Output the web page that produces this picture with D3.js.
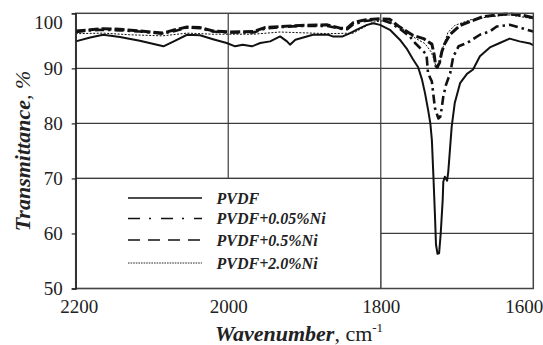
<!DOCTYPE html>
<html>
<head>
<meta charset="utf-8">
<script src="https://cdn.jsdelivr.net/npm/d3@7"></script>
<style>
  html, body { margin: 0; padding: 0; background: #fff; }
  svg { display: block; }
  text { font-family: "Liberation Serif", "Times New Roman", serif; fill: #222; }
</style>
</head>
<body>
<svg id="chart" width="543" height="345"></svg>
<script>
// FTIR spectra of PVDF films, 2200–1600 cm-1
const xTicks = [2200, 2000, 1800, 1600];
const yTicks = [50, 60, 70, 80, 90, 100];

const pvdfWave = [2200, 2181, 2164, 2142, 2116, 2085, 2070, 2054, 2037, 2020, 2002, 1991, 1981, 1969, 1958, 1945, 1932, 1923, 1919, 1912, 1897, 1889, 1869, 1863, 1850, 1840, 1832, 1818, 1810, 1801, 1788, 1775, 1766, 1758, 1751, 1746, 1742, 1738, 1735, 1733, 1731, 1729, 1727.6, 1725.6, 1723.5, 1721.4, 1718.8, 1718, 1716, 1713, 1711.5, 1709.3, 1707, 1703, 1696, 1687, 1679, 1670, 1657, 1644, 1631, 1618, 1604, 1600];
const pvdfT    = [94.9, 95.6, 96.1, 95.7, 95.0, 94.0, 95.0, 96.1, 96.0, 95.3, 94.6, 94.0, 94.3, 94.0, 94.6, 94.9, 95.8, 94.9, 94.3, 95.2, 95.8, 96.1, 96.1, 95.8, 95.8, 96.4, 97.0, 97.9, 98.2, 97.9, 97.0, 95.2, 93.6, 91.7, 90.2, 88.0, 85.5, 82.5, 80.0, 77.0, 70.5, 63.5, 58.0, 56.3, 56.4, 60.0, 66.1, 69.4, 70.3, 69.6, 71.2, 75.2, 79.4, 83.7, 87.3, 89.0, 89.8, 92.2, 93.8, 94.6, 95.4, 94.9, 94.5, 94.2];

const ni005Wave = [2200, 2181, 2164, 2142, 2116, 2086, 2070, 2054, 2037, 2020, 1998, 1967, 1952, 1932, 1906, 1870, 1853, 1844, 1836, 1821, 1801, 1788, 1775, 1762, 1755, 1747, 1740, 1738, 1733, 1731, 1729, 1724.5, 1722, 1720, 1718, 1714.5, 1709, 1705, 1698, 1687, 1670, 1657, 1648, 1631, 1615, 1600];
const ni005T    = [96.6, 96.9, 97.0, 96.9, 96.7, 96.3, 96.8, 97.4, 97.3, 96.7, 96.5, 96.5, 97.2, 97.5, 97.7, 97.7, 97.2, 97.1, 98.0, 98.6, 98.9, 98.3, 97.2, 95.8, 94.6, 93.5, 92.5, 89.1, 87.6, 85.2, 82.8, 80.9, 81.2, 82.8, 84.9, 87.0, 89.1, 92.1, 94.0, 94.6, 96.1, 96.7, 97.6, 97.9, 97.3, 96.7];

const ni05Wave = [2200, 2181, 2164, 2142, 2116, 2086, 2070, 2054, 2037, 2020, 1998, 1967, 1952, 1932, 1906, 1870, 1853, 1844, 1836, 1821, 1801, 1788, 1775, 1758, 1744, 1733, 1730, 1728, 1726, 1723, 1720, 1716, 1709, 1696, 1683, 1666, 1648, 1631, 1613, 1600];
const ni05T    = [96.8, 97.0, 97.2, 97.1, 96.8, 96.4, 97.0, 97.5, 97.4, 96.8, 96.6, 96.7, 97.4, 97.6, 97.8, 97.9, 97.3, 97.3, 98.3, 98.8, 99.0, 98.9, 97.5, 96.0, 95.4, 94.4, 92.5, 90.5, 90.2, 91.0, 93.0, 94.5, 96.2, 97.8, 98.5, 99.4, 99.7, 99.9, 99.6, 99.2];

const ni20Wave = [2200, 2164, 2129, 2086, 2054, 2020, 1967, 1932, 1870, 1836, 1810, 1794, 1775, 1755, 1742, 1734, 1730, 1727, 1725, 1722, 1718, 1712, 1703, 1683, 1657, 1631, 1600];
const ni20T    = [96.3, 96.4, 96.1, 95.9, 96.4, 96.2, 96.2, 96.6, 96.3, 96.4, 98.4, 98.7, 97.6, 95.5, 94.5, 93.0, 91.5, 90.0, 90.0, 91.5, 94.0, 96.5, 97.8, 98.8, 99.4, 99.7, 99.0];

const seriesNames = ["PVDF", "PVDF+0.05%Ni", "PVDF+0.5%Ni", "PVDF+2.0%Ni"];

const series = [
  { name: seriesNames[0], wave: pvdfWave,  t: pvdfT,  width: 2.0, dash: null,          legendDash: null,          legendWidth: 1.3 },
  { name: seriesNames[1], wave: ni005Wave, t: ni005T, width: 2.6, dash: "9,4,2.5,4",    legendDash: "12,9,2,10",   legendWidth: 1.3 },
  { name: seriesNames[2], wave: ni05Wave,  t: ni05T,  width: 3.0, dash: "10,3",         legendDash: "12,8",        legendWidth: 1.3 },
  { name: seriesNames[3], wave: ni20Wave,  t: ni20T,  width: 1.0, dash: "2,1.5",        legendDash: "1.6,1",       legendWidth: 0.9 }
];

const plot = { left: 75.7, right: 533.3, top: 13.3, bottom: 288.5 };

const svg = d3.select("#chart");

const x = d3.scaleLinear().domain([2200, 1600]).range([plot.left, plot.right]);
const y = d3.scaleLinear().domain([50, 100]).range([plot.bottom, plot.top]);

const gridColor = "#3c3c3c";

// horizontal grid lines
svg.append("g")
  .selectAll("line")
  .data(yTicks.filter(v => v > 50 && v < 100))
  .join("line")
  .attr("x1", plot.left).attr("x2", plot.right)
  .attr("y1", d => y(d)).attr("y2", d => y(d))
  .attr("stroke", gridColor).attr("stroke-width", 1.2);

// vertical grid lines
svg.append("g")
  .selectAll("line")
  .data(xTicks.filter(v => v < 2200 && v > 1600))
  .join("line")
  .attr("x1", d => x(d)).attr("x2", d => x(d))
  .attr("y1", plot.top).attr("y2", plot.bottom)
  .attr("stroke", gridColor).attr("stroke-width", 1.2);

// legend panel sits in the lower-left grid cell
svg.append("rect")
  .attr("x", x(2200)).attr("y", y(70))
  .attr("width", x(1800) - x(2200)).attr("height", y(50) - y(70))
  .attr("fill", "#fff")
  .attr("stroke", gridColor).attr("stroke-width", 1.2);

// spectra
const line = d3.line()
  .x(d => x(d[0]))
  .y(d => y(d[1]))
  .curve(d3.curveLinear);

svg.append("g")
  .selectAll("path")
  .data(series)
  .join("path")
  .attr("d", s => line(s.wave.map((w, i) => [w, s.t[i]])))
  .attr("fill", "none")
  .attr("stroke", "#111")
  .attr("stroke-width", s => s.width)
  .attr("stroke-dasharray", s => s.dash)
  .attr("stroke-linejoin", "round");

// plot frame
svg.append("rect")
  .attr("x", plot.left).attr("y", plot.top)
  .attr("width", plot.right - plot.left).attr("height", plot.bottom - plot.top)
  .attr("fill", "none")
  .attr("stroke", "#444").attr("stroke-width", 1.5);

// y axis
const yAxis = svg.append("g")
  .attr("transform", `translate(${plot.left},0)`)
  .call(d3.axisLeft(y).tickValues(yTicks).tickFormat(d3.format("d")).tickSize(4).tickPadding(9));
yAxis.select(".domain").attr("stroke", "#222").attr("stroke-width", 1.3);
yAxis.selectAll(".tick line").attr("stroke", "#222").attr("stroke-width", 1.2);
yAxis.selectAll(".tick text")
  .attr("font-size", 19)
  .attr("fill", "#2a2a2a")
  .attr("dy", d => d === 100 ? "0.78em" : "0.34em");

// x axis
const xAxis = svg.append("g")
  .attr("transform", `translate(0,${plot.bottom})`)
  .call(d3.axisBottom(x).tickValues(xTicks).tickFormat(d3.format("d")).tickSize(0).tickPadding(11));
xAxis.select(".domain").remove();
xAxis.selectAll(".tick text")
  .attr("font-size", 19)
  .attr("fill", "#2a2a2a")
  .attr("text-anchor", d => d === 1600 ? "end" : "middle")
  .attr("x", d => d === 1600 ? 9.5 : (d === 2200 ? 3 : 0));

// axis titles
const xTitle = svg.append("text")
  .attr("x", 215).attr("y", 341)
  .attr("font-size", 22);
xTitle.append("tspan").attr("font-weight", "bold").attr("font-style", "italic").text("Wavenumber");
xTitle.append("tspan").text(", cm");
xTitle.append("tspan").attr("font-size", 13).attr("dy", -9).text("-1");

const yTitle = svg.append("text")
  .attr("transform", "translate(30,151) rotate(-90)")
  .attr("text-anchor", "middle")
  .attr("font-size", 22);
yTitle.append("tspan").attr("font-weight", "bold").attr("font-style", "italic").text("Transmittance");
yTitle.append("tspan").attr("font-style", "italic").text(", %");

// legend entries
const legendRows = [198, 218.5, 240, 263];
const legend = svg.append("g")
  .selectAll("g")
  .data(series)
  .join("g")
  .attr("transform", (s, i) => `translate(0,${legendRows[i]})`);
legend.append("line")
  .attr("x1", 128).attr("x2", 202)
  .attr("stroke", "#111")
  .attr("stroke-width", s => s.legendWidth)
  .attr("stroke-dasharray", s => s.legendDash);
legend.append("text")
  .attr("x", 216.5).attr("y", 5.5)
  .attr("font-size", 16)
  .attr("font-weight", "bold")
  .attr("font-style", "italic")
  .text(s => s.name);
</script>
</body>
</html>
